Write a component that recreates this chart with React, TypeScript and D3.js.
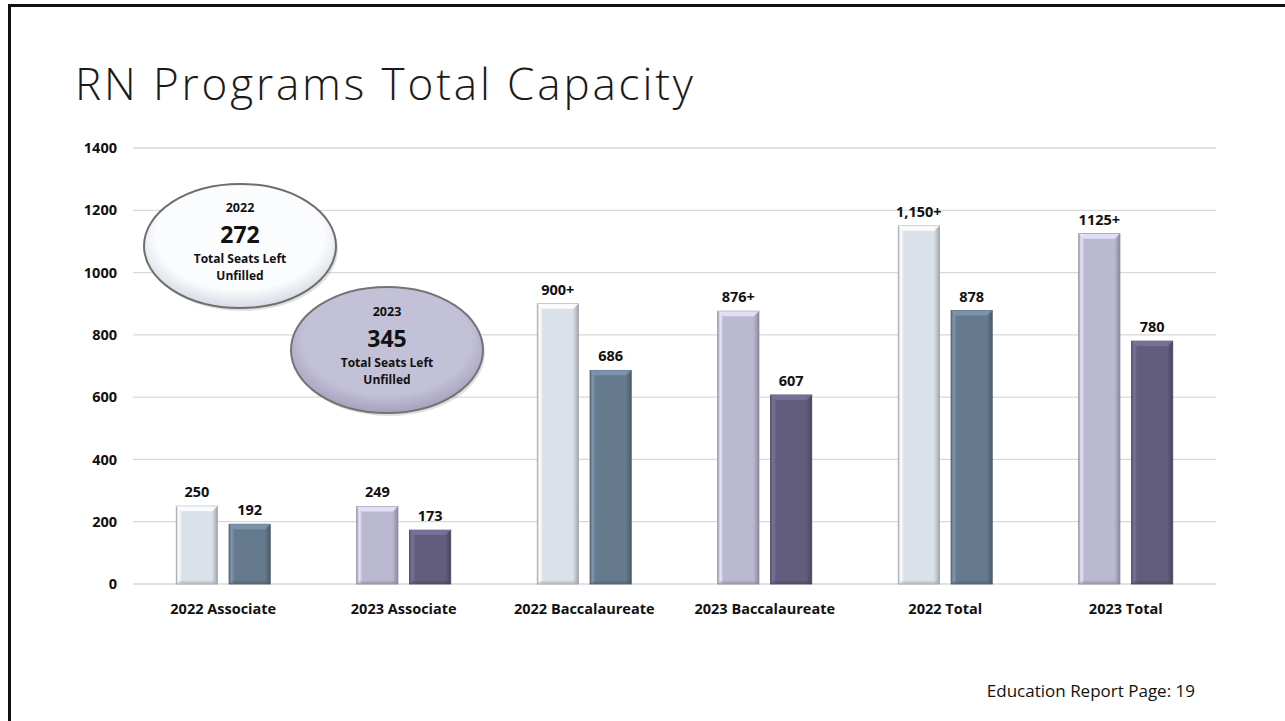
import React from "react";
import * as d3 from "d3";

const categories = [
  "2022 Associate",
  "2023 Associate",
  "2022 Baccalaureate",
  "2023 Baccalaureate",
  "2022 Total",
  "2023 Total",
];
const capacityValues = [250, 249, 900, 876, 1150, 1125];
const capacityLabels = ["250", "249", "900+", "876+", "1,150+", "1125+"];
const filledValues = [192, 173, 686, 607, 878, 780];
const filledLabels = ["192", "173", "686", "607", "878", "780"];
const yTicks = [0, 200, 400, 600, 800, 1000, 1200, 1400];
const categoryYear = ["2022", "2023", "2022", "2023", "2022", "2023"];

const bubbles = [
  { year: "2022", value: "272", line1: "Total Seats Left", line2: "Unfilled" },
  { year: "2023", value: "345", line1: "Total Seats Left", line2: "Unfilled" },
];

const W = 1285;
const H = 721;
const FONT = "'Open Sans', 'DejaVu Sans', sans-serif";

const palette: Record<string, { light: string; dark: string }> = {
  "2022": { light: "#dbe1e9", dark: "#667a8e" },
  "2023": { light: "#bbb9d1", dark: "#625d7d" },
};

function Bar({ x, y, w, h, color, id }: { x: number; y: number; w: number; h: number; color: string; id: string }) {
  const b = Math.min(5, h / 2);
  const c = d3.color(color)!;
  const lighter = c.brighter(0.6).formatHex();
  const darker = c.darker(0.9).formatHex();
  const darker2 = c.darker(0.4).formatHex();
  return (
    <g>
      <defs>
        <linearGradient id={id} x1="0" x2="1" y1="0" y2="0">
          <stop offset="0" stopColor={darker2} />
          <stop offset="0.06" stopColor={lighter} />
          <stop offset="0.14" stopColor={color} />
          <stop offset="0.86" stopColor={color} />
          <stop offset="0.94" stopColor={darker2} />
          <stop offset="1" stopColor={darker} />
        </linearGradient>
      </defs>
      <rect x={x} y={y} width={w} height={h} fill={`url(#${id})`} stroke={darker} strokeWidth={0.8} />
      <polygon
        points={`${x},${y} ${x + w},${y} ${x + w - b},${y + b} ${x + b},${y + b}`}
        fill={lighter}
        opacity={0.85}
      />
      <polygon
        points={`${x},${y + h} ${x + w},${y + h} ${x + w - 3},${y + h - 3} ${x + 3},${y + h - 3}`}
        fill={darker}
        opacity={0.35}
      />
    </g>
  );
}

export default function App() {
  const left = 133;
  const right = 1216;
  const y = d3.scaleLinear().domain([0, 1400]).range([584, 148]);
  const x = d3.scaleBand<string>().domain(categories).range([left, right]).padding(0);
  const groupW = 94;
  const xs = d3.scaleBand<string>().domain(["cap", "fill"]).range([0, groupW]).paddingInner(0.22);

  const bubblePos = [
    { cx: 240, cy: 246, rx: 96, ry: 62, fillIn: "#fbfcfe", fillOut: "#d5dae3", stroke: "#6e6e6e" },
    { cx: 387, cy: 350, rx: 96, ry: 63, fillIn: "#c3c1d7", fillOut: "#a4a1bd", stroke: "#747474" },
  ];

  const LBL = 14.5;

  return (
    <svg width={W} height={H} style={{ position: "absolute", left: 0, top: 0, display: "block" }}>
      <defs>
        {bubblePos.map((p, i) => (
          <radialGradient key={i} id={`bub${i}`} cx="0.5" cy="0.42" r="0.58">
            <stop offset="0" stopColor={p.fillIn} />
            <stop offset="0.75" stopColor={p.fillIn} />
            <stop offset="1" stopColor={p.fillOut} />
          </radialGradient>
        ))}
      </defs>
      <rect x={0} y={0} width={W} height={H} fill="#ffffff" />
      {/* frame */}
      <path d={`M9.5,${H} L9.5,5.5 L${W},5.5`} fill="none" stroke="#111" strokeWidth={3} />

      {/* title */}
      <text
        x={75}
        y={100}
        fontFamily={FONT}
        fontWeight={300}
        fontSize={44}
        fill="#1a1a1a"
        textLength={618}
        lengthAdjust="spacing"
      >
        RN Programs Total Capacity
      </text>

      {/* gridlines */}
      {yTicks.map((t) => (
        <g key={t}>
          <line x1={left} x2={right} y1={y(t)} y2={y(t)} stroke="#d9d9d9" strokeWidth={1.3} />
          <text
            x={117}
            y={y(t)}
            dy="0.35em"
            textAnchor="end"
            fontFamily={FONT}
            fontWeight={700}
            fontSize={LBL}
            fill="#111"
          >
            {t}
          </text>
        </g>
      ))}

      {/* bars */}
      {categories.map((c, i) => {
        const cx = x(c)! + x.bandwidth() / 2;
        const g0 = cx - groupW / 2;
        const col = palette[categoryYear[i]];
        const bw = xs.bandwidth();
        const x1 = g0 + xs("cap")!;
        const x2 = g0 + xs("fill")!;
        return (
          <g key={c}>
            <Bar id={`bc${i}`} x={x1} y={y(capacityValues[i])} w={bw} h={y(0) - y(capacityValues[i])} color={col.light} />
            <Bar id={`bf${i}`} x={x2} y={y(filledValues[i])} w={bw} h={y(0) - y(filledValues[i])} color={col.dark} />
            <text
              x={x1 + bw / 2}
              y={y(capacityValues[i]) - 9}
              textAnchor="middle"
              fontFamily={FONT}
              fontWeight={700}
              fontSize={LBL}
              fill="#111"
            >
              {capacityLabels[i]}
            </text>
            <text
              x={x2 + bw / 2}
              y={y(filledValues[i]) - 9}
              textAnchor="middle"
              fontFamily={FONT}
              fontWeight={700}
              fontSize={LBL}
              fill="#111"
            >
              {filledLabels[i]}
            </text>
            <text
              x={cx}
              y={614}
              textAnchor="middle"
              fontFamily={FONT}
              fontWeight={700}
              fontSize={LBL}
              fill="#111"
            >
              {c}
            </text>
          </g>
        );
      })}

      {/* bubbles */}
      {bubbles.map((b, i) => {
        const p = bubblePos[i];
        return (
          <g key={b.year}>
            <ellipse cx={p.cx + 2} cy={p.cy + 3} rx={p.rx} ry={p.ry} fill="#000" opacity={0.12} />
            <ellipse cx={p.cx} cy={p.cy} rx={p.rx} ry={p.ry} fill={`url(#bub${i})`} stroke={p.stroke} strokeWidth={2} />
            <text x={p.cx} y={p.cy - 34} textAnchor="middle" fontFamily={FONT} fontWeight={700} fontSize={12.5} fill="#111">
              {b.year}
            </text>
            <text x={p.cx} y={p.cy - 3} textAnchor="middle" fontFamily={FONT} fontWeight={700} fontSize={23} fill="#111">
              {b.value}
            </text>
            <text x={p.cx} y={p.cy + 17} textAnchor="middle" fontFamily={FONT} fontWeight={700} fontSize={12} fill="#111">
              {b.line1}
            </text>
            <text x={p.cx} y={p.cy + 34} textAnchor="middle" fontFamily={FONT} fontWeight={700} fontSize={12} fill="#111">
              {b.line2}
            </text>
          </g>
        );
      })}

      {/* footer */}
      <text x={1195} y={697} textAnchor="end" fontFamily={FONT} fontSize={17} fill="#111">
        Education Report Page: 19
      </text>
    </svg>
  );
}
